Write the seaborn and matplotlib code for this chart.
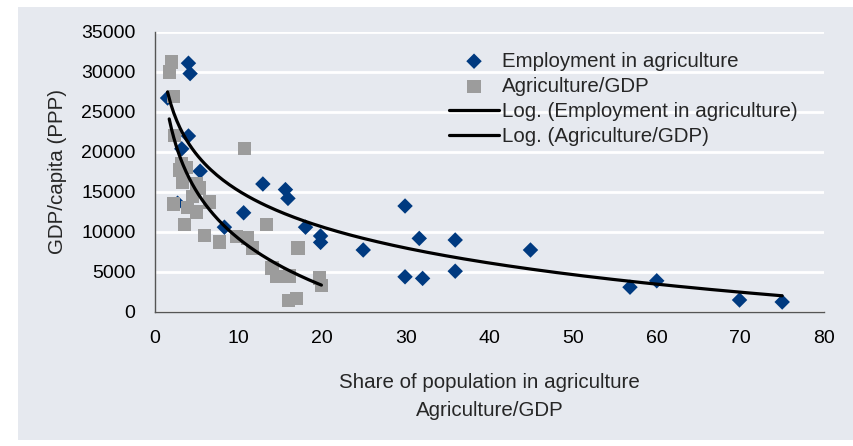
import numpy as np
import pandas as pd
import matplotlib.pyplot as plt
import seaborn as sns
from matplotlib.patches import Rectangle

# employment share in agriculture (%) vs GDP/capita
emp_share = [1.5, 4.0, 4.2, 4.0, 3.2, 5.4, 2.7, 12.9, 15.6, 15.9, 10.6, 8.3, 18.0,
             19.8, 19.8, 24.9, 29.9, 31.6, 35.9, 44.9, 29.9, 32.0, 35.9, 56.8,
             60.0, 69.9, 75.0]
emp_gdp = [26750, 31100, 29800, 22000, 20400, 17600, 13600, 16000, 15300, 14200,
           12400, 10600, 10600, 9500, 8700, 7750, 13250, 9200, 9000, 7750, 4400,
           4200, 5100, 3100, 3900, 1500, 1250]

# agriculture share of GDP (%) vs GDP/capita
agr_share = [2.0, 1.7, 2.2, 2.3, 10.7, 2.9, 3.8, 3.3, 5.3, 4.5, 6.5, 2.2, 5.0,
             3.5, 13.3, 5.9, 7.7, 9.7, 11.1, 11.7, 17.1, 14.0, 14.5, 16.1, 19.7,
             19.9, 16.0, 16.9, 3.2, 3.9, 5.0]
agr_gdp = [31250, 30000, 26900, 22100, 20400, 17750, 18100, 16200, 15500, 14400,
           13750, 13500, 12500, 10900, 10900, 9600, 8750, 9400, 9250, 8000, 8000,
           5500, 4400, 4500, 4250, 3300, 1400, 1700, 18600, 13100, 16100]

BG = "#e6e9ef"
BLUE = "#003a80"
GREY = "#9c9c9c"

emp = pd.DataFrame({"share": emp_share, "gdp": emp_gdp})
agr = pd.DataFrame({"share": agr_share, "gdp": agr_gdp})

sns.set_theme(style="white")
plt.rcParams["font.family"] = ["Liberation Sans", "DejaVu Sans"]

fig = plt.figure(figsize=(8.54, 4.46), dpi=100)
fig.patches.append(Rectangle((18 / 854, 1 - 440 / 446), 836 / 854, 433 / 446,
                             transform=fig.transFigure, facecolor=BG,
                             edgecolor="none", zorder=-10))
ax = fig.add_axes([155 / 854, 1 - 312 / 446, 669 / 854, 280 / 446])
ax.set_facecolor(BG)

sns.scatterplot(data=emp, x="share", y="gdp", marker="D", s=62, color=BLUE,
                edgecolor="none", label="Employment in agriculture", ax=ax, zorder=3)
sns.scatterplot(data=agr, x="share", y="gdp", marker="s", s=90, color=GREY,
                edgecolor="none", label="Agriculture/GDP", ax=ax, zorder=4)

# logarithmic trend lines (y = a*ln(x) + b)
for df, lab in [(emp, "Log. (Employment in agriculture)"), (agr, "Log. (Agriculture/GDP)")]:
    a, b = np.polyfit(np.log(df["share"]), df["gdp"], 1)
    xs = np.linspace(df["share"].min(), df["share"].max(), 200)
    ax.plot(xs, a * np.log(xs) + b, color="black", lw=2.3, label=lab, zorder=5)

ax.set_xlim(0, 80)
ax.set_ylim(0, 35000)
ax.set_xticks(range(0, 81, 10))
ax.set_yticks(range(0, 35001, 5000))
ax.yaxis.grid(True, color="white", lw=2)
ax.set_axisbelow(True)
for side in ["top", "right"]:
    ax.spines[side].set_visible(False)
for side in ["left", "bottom"]:
    ax.spines[side].set_color("#555555")
    ax.spines[side].set_linewidth(1)
ax.tick_params(axis="both", direction="out", length=5, width=1, color="#555555",
               labelsize=14, labelcolor="black")
ax.tick_params(axis="y", pad=9)
ax.tick_params(axis="x", pad=8)

ax.set_xlabel("Share of population in agriculture\nAgriculture/GDP", fontsize=14.8,
              linespacing=1.55, labelpad=19)
ax.set_ylabel("GDP/capita (PPP)", fontsize=14.8, labelpad=10)

ax.legend(loc="upper left", bbox_to_anchor=(0.44, 0.93), frameon=False,
          fontsize=14.8, handlelength=2.4, handletextpad=0.15, labelspacing=0.3,
          borderpad=0, borderaxespad=0)

fig.savefig("out.png", dpi=100, facecolor="white")
